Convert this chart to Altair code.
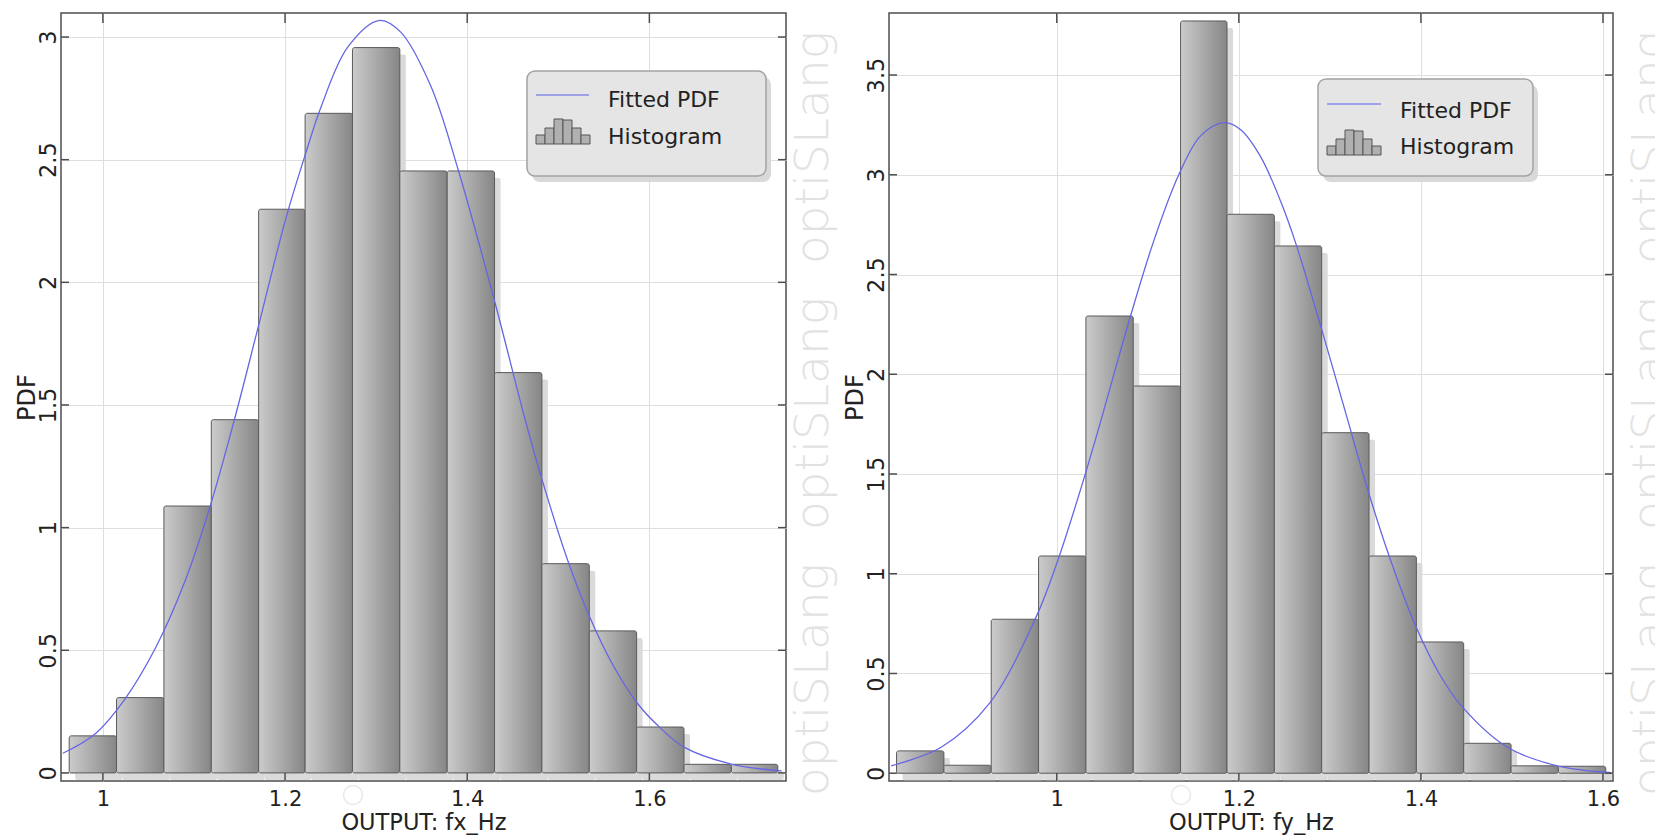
import altair as alt
import pandas as pd

FONT = "DejaVu Sans"

# ---------------- data ----------------
# left panel: OUTPUT fx_Hz
fx_edges = [0.963, 1.015, 1.067, 1.119, 1.171, 1.222, 1.274, 1.326,
            1.378, 1.430, 1.482, 1.534, 1.586, 1.638, 1.690, 1.741]
fx_pdf = [0.151, 0.307, 1.088, 1.440, 2.298, 2.689, 2.957, 2.454,
          2.454, 1.632, 0.853, 0.579, 0.187, 0.035, 0.035]
fx_fit_x = [0.956, 0.991, 1.024, 1.058, 1.090, 1.118, 1.144, 1.170, 1.201,
            1.223, 1.240, 1.269, 1.304, 1.327, 1.360, 1.390, 1.430, 1.463,
            1.481, 1.510, 1.534, 1.560, 1.587, 1.609, 1.638, 1.690, 1.745]
fx_fit_y = [0.080, 0.158, 0.300, 0.511, 0.780, 1.090, 1.435, 1.810, 2.262,
            2.530, 2.720, 2.960, 3.068, 3.020, 2.800, 2.460, 1.924, 1.449,
            1.210, 0.870, 0.640, 0.440, 0.283, 0.194, 0.105, 0.036, 0.008]
fx_xticks = [1.0, 1.2, 1.4, 1.6]
fx_yticks = [0, 0.5, 1, 1.5, 2, 2.5, 3]

# right panel: OUTPUT fy_Hz
fy_edges = [0.824, 0.876, 0.928, 0.980, 1.032, 1.084, 1.136, 1.187,
            1.239, 1.291, 1.343, 1.395, 1.447, 1.499, 1.551, 1.603]
fy_pdf = [0.112, 0.040, 0.772, 1.089, 2.292, 1.941, 3.771, 2.802,
          2.643, 1.707, 1.089, 0.658, 0.150, 0.037, 0.035]
fy_fit_x = [0.818, 0.873, 0.926, 0.977, 1.001, 1.030, 1.048, 1.081, 1.107,
            1.134, 1.158, 1.184, 1.202, 1.224, 1.246, 1.263, 1.290, 1.319,
            1.341, 1.365, 1.394, 1.420, 1.444, 1.495, 1.550, 1.609]
fy_fit_y = [0.037, 0.130, 0.350, 0.780, 1.065, 1.480, 1.760, 2.292, 2.675,
            3.000, 3.195, 3.261, 3.226, 3.090, 2.866, 2.650, 2.240, 1.780,
            1.430, 1.090, 0.740, 0.500, 0.340, 0.130, 0.037, 0.003]
fy_xticks = [1.0, 1.2, 1.4, 1.6]
fy_yticks = [0, 0.5, 1, 1.5, 2, 2.5, 3, 3.5]

legend_labels = ["Fitted PDF", "Histogram"]
watermark = "optiSLang"

# ---------------- styling ----------------
BAR_FILL = alt.Gradient(
    gradient="linear",
    stops=[alt.GradientStop(color="#cbcbcb", offset=0),
           alt.GradientStop(color="#a9a9a9", offset=0.5),
           alt.GradientStop(color="#868686", offset=1)],
    x1=0, x2=1, y1=0, y2=0,
)
ONE = pd.DataFrame({"d": [0]})


def deco_rect(x0, x1, y0, y1, **kw):
    return alt.Chart(ONE).mark_rect(**kw).encode(
        x=alt.value(x0), x2=alt.value(x1), y=alt.value(y0), y2=alt.value(y1))


def deco_text(txt, x, y, **kw):
    return alt.Chart(ONE).mark_text(text=txt, **kw).encode(
        x=alt.value(x), y=alt.value(y))


def panel(edges, pdf, fit_x, fit_y, xdom, ydom, xticks, yticks, xtitle,
          W, H, leg, wm_x):
    bars = pd.DataFrame({"x0": edges[:-1], "x1": edges[1:], "pdf": pdf})
    fit = pd.DataFrame({"x0": fit_x, "pdf": fit_y})
    xt = pd.DataFrame({"x0": xticks})
    yt = pd.DataFrame({"pdf": yticks})
    xs = alt.Scale(domain=xdom, nice=False, zero=False)
    ys = alt.Scale(domain=ydom, nice=False, zero=False)

    xaxis = alt.Axis(values=xticks, format="~g", title=xtitle, grid=True,
                     ticks=False, tickSize=0, domain=False, labelPadding=7,
                     labelFontSize=21, titleFontSize=22.5, titlePadding=2,
                     labelFlush=False)
    yaxis = alt.Axis(values=yticks, format="~g", title="PDF", grid=True,
                     ticks=False, tickSize=0, domain=False, labelPadding=6,
                     labelFontSize=22.5, titleFontSize=24, labelAngle=-90,
                     labelAlign="center", labelBaseline="alphabetic",
                     titleAngle=-90, titleX=-27, titleBaseline="alphabetic",
                     labelFlush=False)
    X = alt.X("x0:Q", scale=xs, axis=xaxis)
    Y = alt.Y("pdf:Q", scale=ys, axis=yaxis)

    shadow = alt.Chart(bars).mark_rect(
        fill="#dadada", xOffset=6, x2Offset=6, yOffset=7, y2Offset=7,
        cornerRadius=2).encode(x=X, x2="x1:Q", y=Y, y2=alt.datum(0))
    hist = alt.Chart(bars).mark_rect(
        fill=BAR_FILL, stroke="#5a5a5a", strokeWidth=1, cornerRadius=2
    ).encode(x=X, x2="x1:Q", y=Y, y2=alt.datum(0))
    curve = alt.Chart(fit).mark_line(
        color="#6666e4", strokeWidth=1.3, interpolate="catmull-rom"
    ).encode(x=X, y=Y)
    tick_style = dict(color="#4d4d4d", strokeWidth=1.5)
    xt_top = alt.Chart(xt).mark_rule(**tick_style).encode(
        x=X, y=alt.value(0), y2=alt.value(10))
    xt_bot = alt.Chart(xt).mark_rule(**tick_style).encode(
        x=X, y=alt.value(H - 8), y2=alt.value(H))
    yt_l = alt.Chart(yt).mark_rule(**tick_style).encode(
        y=Y, x=alt.value(0), x2=alt.value(8))
    yt_r = alt.Chart(yt).mark_rule(**tick_style).encode(
        y=Y, x=alt.value(W - 8), x2=alt.value(W))

    # legend
    bx0, by0, bx1, by1 = leg["box"]
    layers = [
        deco_rect(bx0 + 5, bx1 + 5, by0 + 6, by1 + 6, fill="#d9d9d9",
                  cornerRadius=8),
        deco_rect(bx0, bx1, by0, by1, fill="#e5e5e5", stroke="#a3a3a3",
                  strokeWidth=1.5, cornerRadius=8),
        alt.Chart(ONE).mark_rule(color="#8a8ae8", strokeWidth=1.5).encode(
            x=alt.value(leg["line"][0]), x2=alt.value(leg["line"][1]),
            y=alt.value(leg["line"][2])),
    ]
    ix = leg["icon"][0]
    ib = leg["icon"][1]
    for k, h in enumerate([9, 16, 25, 24, 16, 9]):
        layers.append(deco_rect(ix + 9 * k, ix + 9 * k + 9, ib - h, ib,
                                fill="#b0b0b0", stroke="#555555",
                                strokeWidth=1))
    for lab, yb in zip(legend_labels, leg["text_y"]):
        layers.append(deco_text(lab, leg["text_x"], yb, align="left",
                                baseline="alphabetic", font=FONT,
                                fontSize=22, color="#222222"))

    # watermark
    wm = []
    for yb in [783, 517, 251]:
        wm.append(deco_text(watermark, wm_x, yb, angle=270, align="left",
                            baseline="alphabetic", font=FONT, fontSize=47,
                            fontWeight=200, color="#e2e2e2"))
    circ = alt.Chart(ONE).mark_point(shape="circle", size=360, filled=False,
                                     color="#e0e0e0", strokeWidth=1.5).encode(
        x=alt.value(292), y=alt.value(782))

    return alt.layer(*wm, circ, shadow, hist, curve, xt_top, xt_bot, yt_l,
                     yt_r, *layers).properties(width=W, height=H)


W1, W2, H = 725, 724, 768

left = panel(fx_edges, fx_pdf, fx_fit_x, fx_fit_y, [0.954, 1.750],
             [-0.033, 3.098], fx_xticks, fx_yticks, "OUTPUT: fx_Hz", W1, H,
             dict(box=(466, 58, 705, 163), line=(475, 528, 82),
                  icon=(475, 131), text_x=547, text_y=(94, 131)),
             wm_x=767)
right = panel(fy_edges, fy_pdf, fy_fit_x, fy_fit_y, [0.8157, 1.611],
              [-0.039, 3.811], fy_xticks, fy_yticks, "OUTPUT: fy_Hz", W2, H,
              dict(box=(429, 66, 644, 163), line=(438, 492, 91),
                   icon=(438, 142), text_x=511, text_y=(105, 141)),
              wm_x=776)

chart = alt.hconcat(left, right, spacing=103, bounds="flush").properties(
    padding={"left": 14, "top": 11, "right": -20, "bottom": 0},
    background="white",
).configure_view(
    stroke="#4d4d4d", strokeWidth=1.5
).configure_axis(
    labelFont=FONT, titleFont=FONT, labelColor="#222222",
    titleColor="#222222", titleFontWeight="normal", gridColor="#dedede",
    gridWidth=1,
)

chart.save("out.html", embed_options={"renderer": "svg", "actions": False})
